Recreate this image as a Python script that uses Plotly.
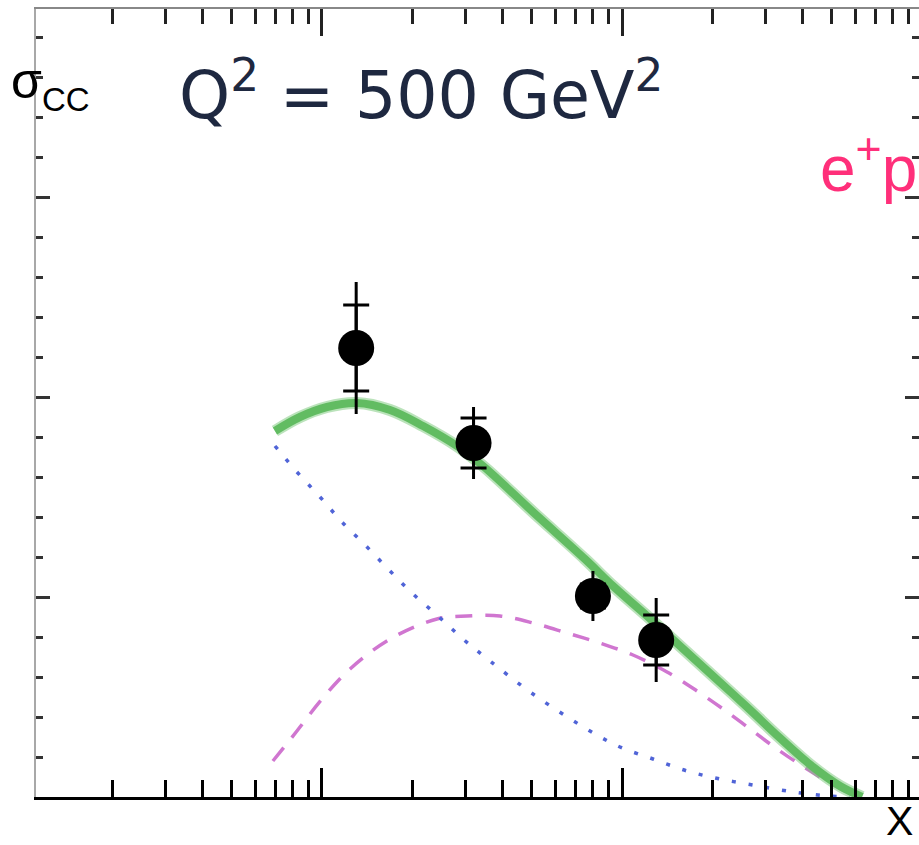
import plotly.graph_objects as go

# ---------------- data ----------------
# total (green band) model curve
total_x = [0.00697, 0.00844, 0.01039, 0.01308, 0.01686, 0.02172, 0.02818, 0.03442,
           0.0505, 0.07524, 0.09333, 0.1212, 0.1561, 0.2011, 0.2610, 0.3363,
           0.4333, 0.5329, 0.6310]
total_y = [0.366, 0.380, 0.390, 0.394, 0.387, 0.371, 0.351, 0.331,
           0.285, 0.238, 0.211, 0.181, 0.151, 0.121, 0.090, 0.059,
           0.030, 0.011, 0.0]

# blue dotted contribution
blue_x = [0.00697, 0.00825, 0.00985, 0.01166, 0.01413, 0.01686, 0.02011, 0.02436,
          0.02951, 0.03631, 0.0505, 0.07822, 0.09847, 0.1269, 0.1647, 0.2122,
          0.2733, 0.3548, 0.4826, 0.5754]
blue_y = [0.351, 0.325, 0.300, 0.275, 0.250, 0.226, 0.203, 0.181,
          0.158, 0.136, 0.103, 0.066, 0.050, 0.038, 0.026, 0.018,
          0.012, 0.006, 0.001, 0.0]

# magenta dashed contribution
mag_x = [0.00686, 0.00825, 0.0100, 0.0124, 0.01686, 0.02417, 0.03044, 0.0392,
         0.0505, 0.06557, 0.08444, 0.1088, 0.1413, 0.1778, 0.2172, 0.2672,
         0.3287, 0.4138, 0.5209, 0.5888]
mag_y = [0.036, 0.066, 0.098, 0.128, 0.158, 0.178, 0.181, 0.181,
         0.174, 0.164, 0.154, 0.142, 0.125, 0.106, 0.088, 0.068,
         0.048, 0.028, 0.010, 0.002]

# measured points
pt_x = [0.013, 0.032, 0.080, 0.130]
pt_y = [0.449, 0.354, 0.201, 0.157]
pt_stat = [0.043, 0.025, 0.012, 0.025]
pt_tot = [0.066, 0.036, 0.025, 0.042]

# ---------------- layout geometry ----------------
OFF = 0                                   # body margin removed below
W, H = 919, 845
PL, PR, PT, PB = 36, 919, 9, 797          # plot area in page pixels
ML, MR, MT = PL - OFF, W - (PR - OFF), PT - OFF
MB = H - (PB - OFF)
PW = PR - PL
PH = PB - PT


def px(xp):
    return (xp - PL) / PW


def py(yp):
    return (PB - yp) / PH


XRANGE = [-2.9533, -0.01]
YRANGE = [0, 0.788]

fig = go.Figure()

fig.add_trace(go.Scatter(x=mag_x, y=mag_y, mode="lines", line_shape="spline",
                         line=dict(color="rgb(208,118,208)", width=3.5, dash="17px,13px"),
                         hoverinfo="skip", showlegend=False))
fig.add_trace(go.Scatter(x=blue_x, y=blue_y, mode="lines", line_shape="spline",
                         line=dict(color="rgb(80,100,215)", width=3.5, dash="4px,13px"),
                         hoverinfo="skip", showlegend=False))
fig.add_trace(go.Scatter(x=total_x, y=total_y, mode="lines", line_shape="spline",
                         line=dict(color="rgba(120,200,120,0.5)", width=12),
                         hoverinfo="skip", showlegend=False))
fig.add_trace(go.Scatter(x=total_x, y=total_y, mode="lines", line_shape="spline",
                         line=dict(color="rgb(98,188,98)", width=8),
                         hoverinfo="skip", showlegend=False))

# data points on the overlay axes (top / right)
fig.add_trace(go.Scatter(x=pt_x, y=pt_y, mode="markers", xaxis="x2", yaxis="y2",
                         marker=dict(size=1, color="black", opacity=0),
                         error_y=dict(type="data", array=pt_tot, color="black",
                                      thickness=3, width=0),
                         hoverinfo="skip", showlegend=False))
fig.add_trace(go.Scatter(x=pt_x, y=pt_y, mode="markers", xaxis="x2", yaxis="y2",
                         marker=dict(size=36, color="black", line=dict(width=0)),
                         error_y=dict(type="data", array=pt_stat, color="black",
                                      thickness=3, width=13),
                         hoverinfo="skip", showlegend=False))

tick_common = dict(showticklabels=False, showgrid=False, zeroline=False)

fig.update_layout(
    width=W, height=H,
    margin=dict(l=ML, r=MR, t=MT, b=MB, pad=0),
    paper_bgcolor="white", plot_bgcolor="white",
    showlegend=False,
    xaxis=dict(type="log", range=XRANGE, dtick=1, ticks="inside", ticklen=29,
               tickwidth=2.5, tickcolor="black", showline=True, linecolor="black",
               linewidth=3,
               minor=dict(ticks="inside", dtick="D1", ticklen=17, tickwidth=2.5,
                          tickcolor="black", showgrid=False),
               **tick_common),
    xaxis2=dict(type="log", range=XRANGE, dtick=1, ticks="inside", ticklen=27,
                tickwidth=2.5, tickcolor="#222", showline=True, linecolor="#888",
                linewidth=2, overlaying="x", side="top", anchor="y2",
                minor=dict(ticks="inside", dtick="D1", ticklen=15, tickwidth=2.5,
                           tickcolor="#222", showgrid=False),
                **tick_common),
    yaxis=dict(range=YRANGE, dtick=0.2, tick0=0, ticks="inside", ticklen=14,
               tickwidth=2.5, tickcolor="#333", showline=True, linecolor="#a8a8a8",
               linewidth=2,
               minor=dict(ticks="inside", dtick=0.04, ticklen=7, tickwidth=2.5,
                          tickcolor="#333", showgrid=False),
               **tick_common),
    yaxis2=dict(range=YRANGE, dtick=0.2, tick0=0, ticks="inside", ticklen=14,
                tickwidth=2.5, tickcolor="#333", showline=False,
                overlaying="y", side="right", anchor="x2",
                minor=dict(ticks="inside", dtick=0.04, ticklen=7, tickwidth=2.5,
                           tickcolor="#333", showgrid=False),
                **tick_common),
)

ann = []
ann.append(dict(text="σ", x=px(9), y=py(81), xref="paper", yref="paper",
                xanchor="left", yanchor="middle", showarrow=False,
                font=dict(family="Liberation Sans, Arial", size=50, color="black")))
ann.append(dict(text="CC", x=px(39.5), y=py(99.5), xref="paper", yref="paper",
                xanchor="left", yanchor="middle", showarrow=False,
                font=dict(family="Liberation Sans, Arial", size=33, color="black")))
ann.append(dict(text="Q<sup>2</sup> = 500 GeV<sup>2</sup>", x=px(177), y=py(91),
                xref="paper", yref="paper", xanchor="left", yanchor="middle",
                showarrow=False,
                font=dict(family="DejaVu Sans", size=65, color="#1e2840")))
ann.append(dict(text="e<sup>+</sup>p", x=px(818), y=py(164), xref="paper", yref="paper",
                xanchor="left", yanchor="middle", showarrow=False,
                font=dict(family="Liberation Sans, Arial", size=64, color="#ff2f7a")))
ann.append(dict(text="X", x=px(884), y=py(821), xref="paper", yref="paper",
                xanchor="left", yanchor="middle", showarrow=False,
                font=dict(family="Liberation Sans, Arial", size=41, color="black")))
fig.update_layout(annotations=ann)

fig.write_html(
    "out.html",
    config={"displayModeBar": False},
    post_script="document.body.style.margin='0px';"
                "document.documentElement.style.overflow='hidden';",
)
